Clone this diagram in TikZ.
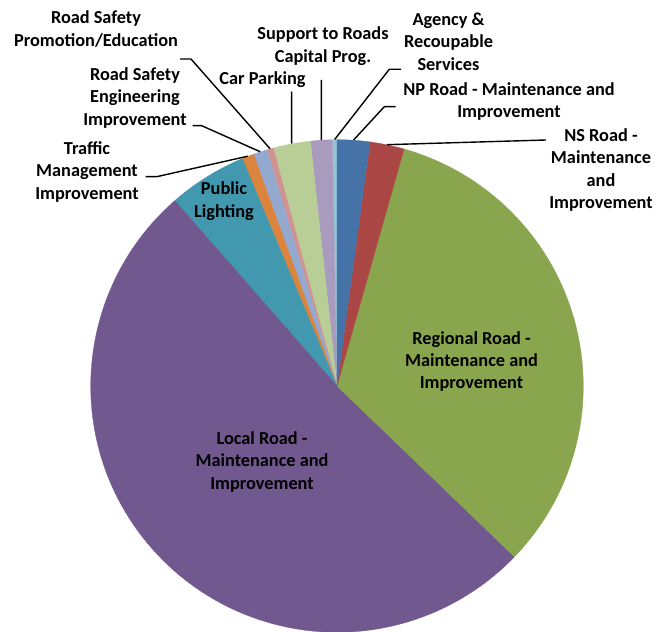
\documentclass[tikz,border=0pt]{standalone}
\usepackage{fontspec}
\setmainfont{Carlito}
\usepackage{tikz}
\usetikzlibrary{calc}

\definecolor{npblue}{HTML}{4572A7}
\definecolor{nsred}{HTML}{AA4643}
\definecolor{reggreen}{HTML}{89A54E}
\definecolor{locpurple}{HTML}{71588F}
\definecolor{pubteal}{HTML}{4198AF}
\definecolor{traforange}{HTML}{DB843D}
\definecolor{engblue}{HTML}{93A9CF}
\definecolor{promopink}{HTML}{D19392}
\definecolor{cargreen}{HTML}{B9CD96}
\definecolor{suplilac}{HTML}{A99BBD}
\definecolor{agcyan}{HTML}{92C5D8}

\begin{document}
\begin{tikzpicture}[
  x=1pt, y=1pt,
  slice/.style={fill=#1, draw=#1, line width=0.3pt, line join=round},
  lbl/.style={align=center, inner sep=0pt, font=\bfseries\fontsize{18.3}{22.3}\selectfont},
  leader/.style={draw=black, line width=1.4pt}
]
\useasboundingbox (0,0) rectangle (667,632);
\coordinate (c) at (337,246);

% slices, counterclockwise from the top
\foreach \a/\b/\col in {90/91.1/agcyan, 91.1/96.2/suplilac, 96.2/105/cargreen,
    105/106.5/promopink, 106.5/109.8/engblue, 109.8/112.6/traforange,
    112.6/131.2/pubteal, 131.2/316.1/locpurple, 316.1/434.2/reggreen,
    434.2/442.3/nsred, 442.3/450/npblue}
  \path[slice=\col] (c) -- ($(c)+(\a:246.3pt)$) arc[start angle=\a, end angle=\b, radius=246.3pt] -- cycle;

% points on the rim
\foreach \n/\a in {agency/90.55, support/93.65, car/100.6, promo/105.75,
    eng/108.15, traffic/111.2, np/86.15, ns/78.25}
  \coordinate (p-\n) at ($(c)+(\a:246.5pt)$);

% labels inside
\node[lbl] (regional) at (471.5,270.5) {Regional Road -\\Maintenance and\\Improvement};
\node[lbl] (local) at (262,170) {Local Road -\\Maintenance and\\Improvement};
\node[lbl] (public) at (224,431) {Public\\Lighting};

% labels outside
\node[lbl] (promo) at (96,603) {Road Safety\\Promotion/Education};
\node[lbl] (eng) at (135,534) {Road Safety\\Engineering\\Improvement};
\node[lbl] (traffic) at (87,460) {Traffic\\Management\\Improvement};
\node[lbl] (car) at (262.5,552) {Car Parking};
\node[lbl] (support) at (323,586) {Support to Roads\\Capital Prog.};
\node[lbl] (agency) at (448.5,590.5) {Agency \&\\Recoupable\\Services};
\node[lbl] (np) at (509,530.5) {NP Road - Maintenance and\\Improvement};
\node[lbl] (ns) at (601,462) {NS Road -\\Maintenance\\and\\Improvement};

% leader lines
\coordinate (promo-a) at (180,573);   \coordinate (promo-k) at (191,573);
\coordinate (eng-a) at (192.7,506.3); \coordinate (eng-k) at (201.7,506.3);
\coordinate (traffic-a) at (145.7,455.3); \coordinate (traffic-k) at (156.7,455.3);
\coordinate (car-a) at (291.6,540.3);
\coordinate (support-a) at (321.3,552);
\coordinate (agency-a) at (401,562.7); \coordinate (agency-k) at (389.3,562.7);
\coordinate (np-a) at (395.7,525.3);  \coordinate (np-k) at (384.3,525.3);
\coordinate (ns-a) at (546,492);

\draw[leader] (promo-a) -- (promo-k) -- (p-promo);
\draw[leader] (eng-a) -- (eng-k) -- (p-eng);
\draw[leader] (traffic-a) -- (traffic-k) -- (p-traffic);
\draw[leader] (car-a) -- (p-car);
\draw[leader] (support-a) -- (p-support);
\draw[leader] (agency-a) -- (agency-k) -- (p-agency);
\draw[leader] (np-a) -- (np-k) -- (p-np);
\draw[leader] (ns-a) -- (p-ns);
\end{tikzpicture}
\end{document}
